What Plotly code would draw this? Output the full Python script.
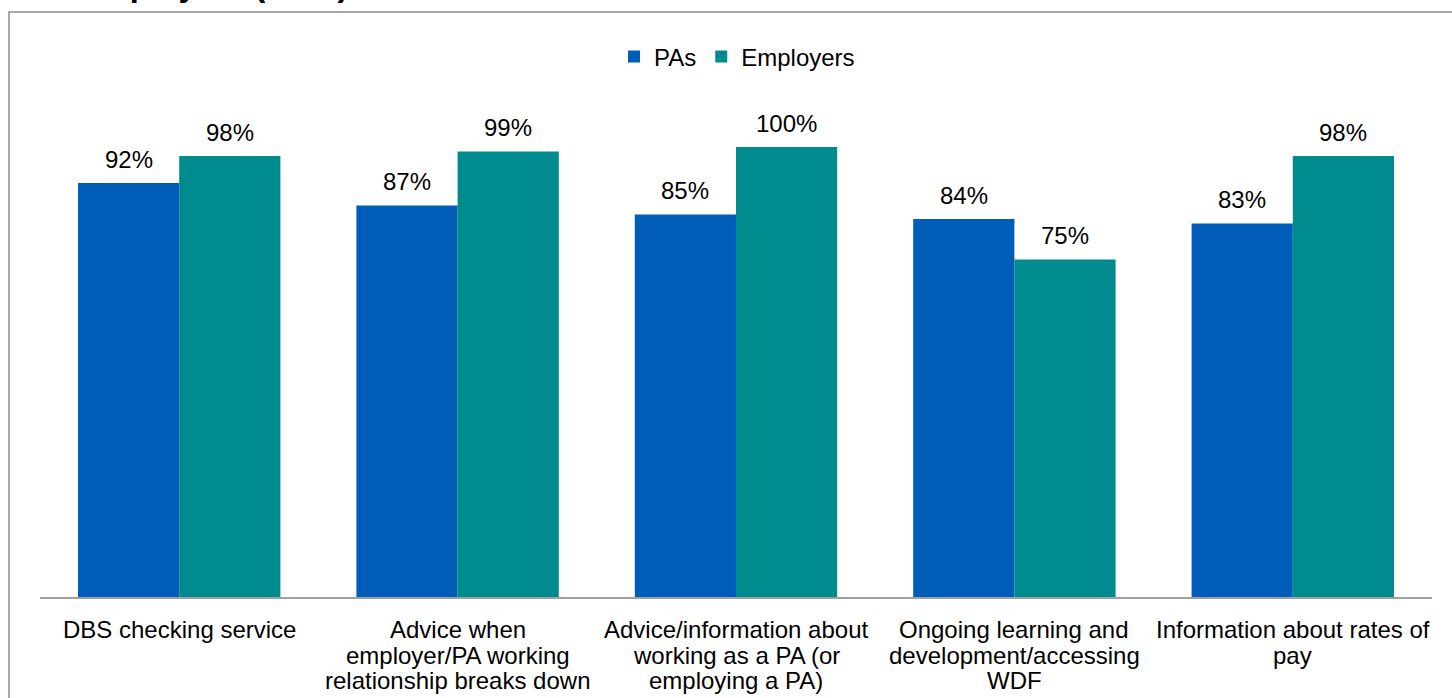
import plotly.graph_objects as go

categories = [
    "DBS checking service",
    "Advice when<br>employer/PA working<br>relationship breaks down",
    "Advice/information about<br>working as a PA (or<br>employing a PA)",
    "Ongoing learning and<br>development/accessing<br>WDF",
    "Information about rates of<br>pay",
]
pas = [92, 87, 85, 84, 83]
employers = [98, 99, 100, 75, 98]
series_names = ["PAs", "Employers"]
colors = ["#005EB8", "#008C8F"]
title_fragment = "and employers (2021)"

FONT = "Liberation Sans, Arial, sans-serif"
FS = 24
W, H = 1452, 698
L, R, T, B = 40, 20, 102, 101
plot_w = W - L - R
plot_h = H - T - B
ymax = 110

fig = go.Figure()
for name, vals, col in zip(series_names, [pas, employers], colors):
    fig.add_trace(go.Bar(
        x=categories, y=vals, name=name,
        marker=dict(color=col, line=dict(width=0)),
        hoverinfo="y",
    ))

# value labels above bars
bar_px = plot_w / len(categories) * (1 - 0.273) / 2
annotations = []
for i, vals in enumerate([pas, employers]):
    shift = -bar_px / 2 if i == 0 else bar_px / 2
    for c, v in zip(categories, vals):
        annotations.append(dict(
            x=c, y=v, xref="x", yref="y", text=f"{v}%", showarrow=False,
            xshift=shift, yshift=24, yanchor="middle",
            font=dict(family=FONT, size=FS, color="#000000"),
        ))

# category labels (tight line spacing like the original)
LINE_GAP = 25.5
for c in categories:
    for j, line in enumerate(c.split("<br>")):
        annotations.append(dict(
            x=c, y=0, xref="x", yref="paper", text=line, showarrow=False,
            yanchor="middle", xanchor="center", yshift=-(32.5 + j * LINE_GAP),
            font=dict(family=FONT, size=FS, color="#000000"),
        ))

def px_to_paper_x(px):
    return (px - L) / plot_w

def px_to_paper_y(py):
    return (H - B - py) / plot_h

# clipped title fragment at the very top
annotations.append(dict(
    x=px_to_paper_x(14), y=px_to_paper_y(5), xref="paper", yref="paper",
    xanchor="left", yanchor="bottom", showarrow=False,
    text=f"<b>{title_fragment}</b>",
    font=dict(family=FONT, size=32.5, color="#000000"),
))

fig.update_layout(
    width=W, height=H,
    margin=dict(l=L, r=R, t=T, b=B, pad=0),
    paper_bgcolor="white", plot_bgcolor="white",
    barmode="group", bargap=0.273, bargroupgap=0,
    font=dict(family=FONT, size=FS, color="#000000"),
    showlegend=True,
    legend=dict(
        orientation="h", x=px_to_paper_x(737), xanchor="center",
        y=px_to_paper_y(57), yanchor="middle",
        font=dict(family=FONT, size=FS, color="#000000"),
        bgcolor="rgba(0,0,0,0)", itemwidth=30, tracegroupgap=0,
    ),
    xaxis=dict(
        showline=True, linecolor="#A0A0A0", linewidth=2,
        ticks="", showgrid=False, zeroline=False, showticklabels=False,
    ),
    yaxis=dict(
        range=[0, ymax], visible=False, showgrid=False, zeroline=False,
    ),
    annotations=annotations,
    shapes=[dict(
        type="rect", xref="paper", yref="paper",
        x0=px_to_paper_x(9), x1=px_to_paper_x(1470),
        y0=px_to_paper_y(720), y1=px_to_paper_y(12),
        line=dict(color="#8C8C8C", width=1.5), fillcolor="rgba(0,0,0,0)",
        layer="below",
    )],
)

fig.write_html(
    "out.html",
    config={"displayModeBar": False},
    post_script="document.body.style.margin='0';document.body.style.overflow='hidden';",
)
